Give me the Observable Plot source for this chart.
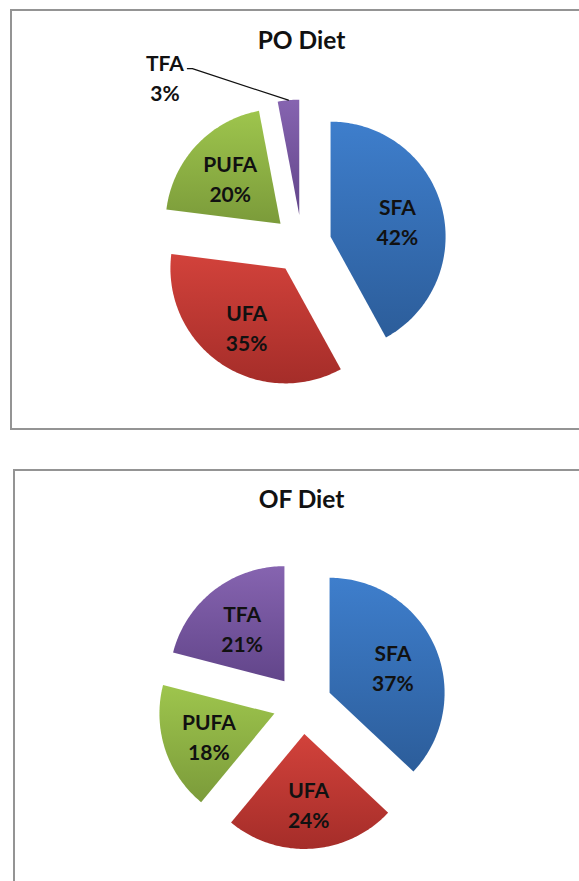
<!DOCTYPE html>
<html><head><meta charset="utf-8">
<script src="https://cdn.jsdelivr.net/npm/d3@7"></script>
<script src="https://cdn.jsdelivr.net/npm/@observablehq/plot@0.6"></script>
<style>
body{margin:0;width:579px;height:881px;overflow:hidden;position:relative;background:#fff;font-family:Lato,'Open Sans',sans-serif}
.box{position:absolute;box-sizing:border-box;border:2px solid #949494;background:#fff}
.chart{position:absolute;left:0}
.title{position:absolute;left:0;width:603px;text-align:center;font-weight:700;font-size:24.5px;line-height:30px;color:#111;font-family:Lato,'Open Sans',sans-serif}
</style></head><body>
<div class="box" style="left:10px;top:9px;width:640px;height:421px"></div>
<div class="box" style="left:13px;top:469px;width:640px;height:480px"></div>
<div id="c0" class="chart" style="top:0px"></div>
<div id="c1" class="chart" style="top:460px"></div>
<div id="t0" class="title" style="top:24.8px"></div>
<div id="t1" class="title" style="top:484.2px"></div>
<script>
// ---- data ----
const categories = ["SFA", "UFA", "PUFA", "TFA"];
const poValues = [42, 35, 20, 3];
const ofValues = [37, 24, 18, 21];
const chartTitles = ["PO Diet", "OF Diet"];
// ---- styles ----
const topColors = ["#3e7ecc", "#d2423b", "#9ec54d", "#8664b0"];
const bottomColors = ["#2c5d9a", "#a52d29", "#7b9b3a", "#62458a"];

// ---- layout ----
const R = 115, EXPLODE = 29.5, LABEL_FRAC = 0.6;
const FONT = "Lato, 'Open Sans', sans-serif";

function pieChart(values, idx, {width, height, cx, cy}) {
  const data = categories.map((c, i) => ({category: c, value: values[i], i}));
  const arcs = d3.pie().sort(null).value(d => d.value)(data);
  const pt = (a, r) => [r * Math.sin(a), -r * Math.cos(a)];
  const slices = arcs.map(a => {
    const mid = (a.startAngle + a.endAngle) / 2;
    const [ax, ay] = pt(mid, EXPLODE);
    const n = Math.max(2, Math.ceil((a.endAngle - a.startAngle) / (Math.PI / 180)));
    const pts = [{x: ax, y: ay}];
    for (let k = 0; k <= n; k++) {
      const t = a.startAngle + (a.endAngle - a.startAngle) * k / n;
      const [px, py] = pt(t, R);
      pts.push({x: ax + px, y: ay + py});
    }
    pts.push({x: ax, y: ay});
    const [ox, oy] = pt(mid, R);
    return {...a.data, mid, ax, ay, pts, arcX: ax + ox, arcY: ay + oy};
  });

  const defsMark = () => {
    const g = d3.create("svg:g");
    const defs = g.append("defs");
    slices.forEach(s => {
      const lg = defs.append("linearGradient")
        .attr("id", `g${idx}-${s.i}`).attr("x1", 0).attr("y1", 0).attr("x2", 0).attr("y2", 1);
      lg.append("stop").attr("offset", "0%").attr("stop-color", topColors[s.i]);
      lg.append("stop").attr("offset", "100%").attr("stop-color", bottomColors[s.i]);
    });
    return g.node();
  };

  const inside = slices.filter(s => s.value >= 5);
  const outside = slices.filter(s => s.value < 5);
  const leaders = outside.flatMap(s => {
    const ex = s.arcX - 96, ey = s.arcY - 31.5;
    return [
      {x: s.arcX, y: s.arcY, k: s.category},
      {x: ex, y: ey, k: s.category},
      {x: ex - 5, y: ey, k: s.category}
    ];
  });

  return Plot.plot({
    width, height,
    margin: 0,
    style: {background: "none", overflow: "visible"},
    x: {type: "linear", domain: [-cx, width - cx], range: [0, width], axis: null},
    y: {type: "linear", domain: [-cy, height - cy], range: [0, height], axis: null},
    marks: [
      defsMark,
      ...slices.map(s => Plot.line(s.pts, {x: "x", y: "y", fill: `url(#g${idx}-${s.i})`, stroke: "none"})),
      Plot.text(inside, {
        x: d => d.ax + LABEL_FRAC * R * Math.sin(d.mid),
        y: d => d.ay - LABEL_FRAC * R * Math.cos(d.mid) + 0.8,
        text: d => `${d.category}\n${d.value}%`,
        fontSize: 21, fontWeight: "bold", fontFamily: FONT, lineHeight: 1.43, fill: "#111"
      }),
      Plot.line(leaders, {x: "x", y: "y", z: "k", stroke: "#111", strokeWidth: 1.2}),
      Plot.text(outside, {
        x: d => d.arcX - 96 - 27.5,
        y: d => d.arcY - 31.5 + 8.1,
        text: d => `${d.category}\n${d.value}%`,
        fontSize: 21, fontWeight: "bold", fontFamily: FONT, lineHeight: 1.43, fill: "#111"
      })
    ]
  });
}

document.getElementById("c0").append(pieChart(poValues, 0, {width: 579, height: 440, cx: 301.5, cy: 243.5}));
document.getElementById("c1").append(pieChart(ofValues, 1, {width: 579, height: 421, cx: 302, cy: 244}));
document.getElementById("t0").textContent = chartTitles[0];
document.getElementById("t1").textContent = chartTitles[1];
</script>
</body></html>
